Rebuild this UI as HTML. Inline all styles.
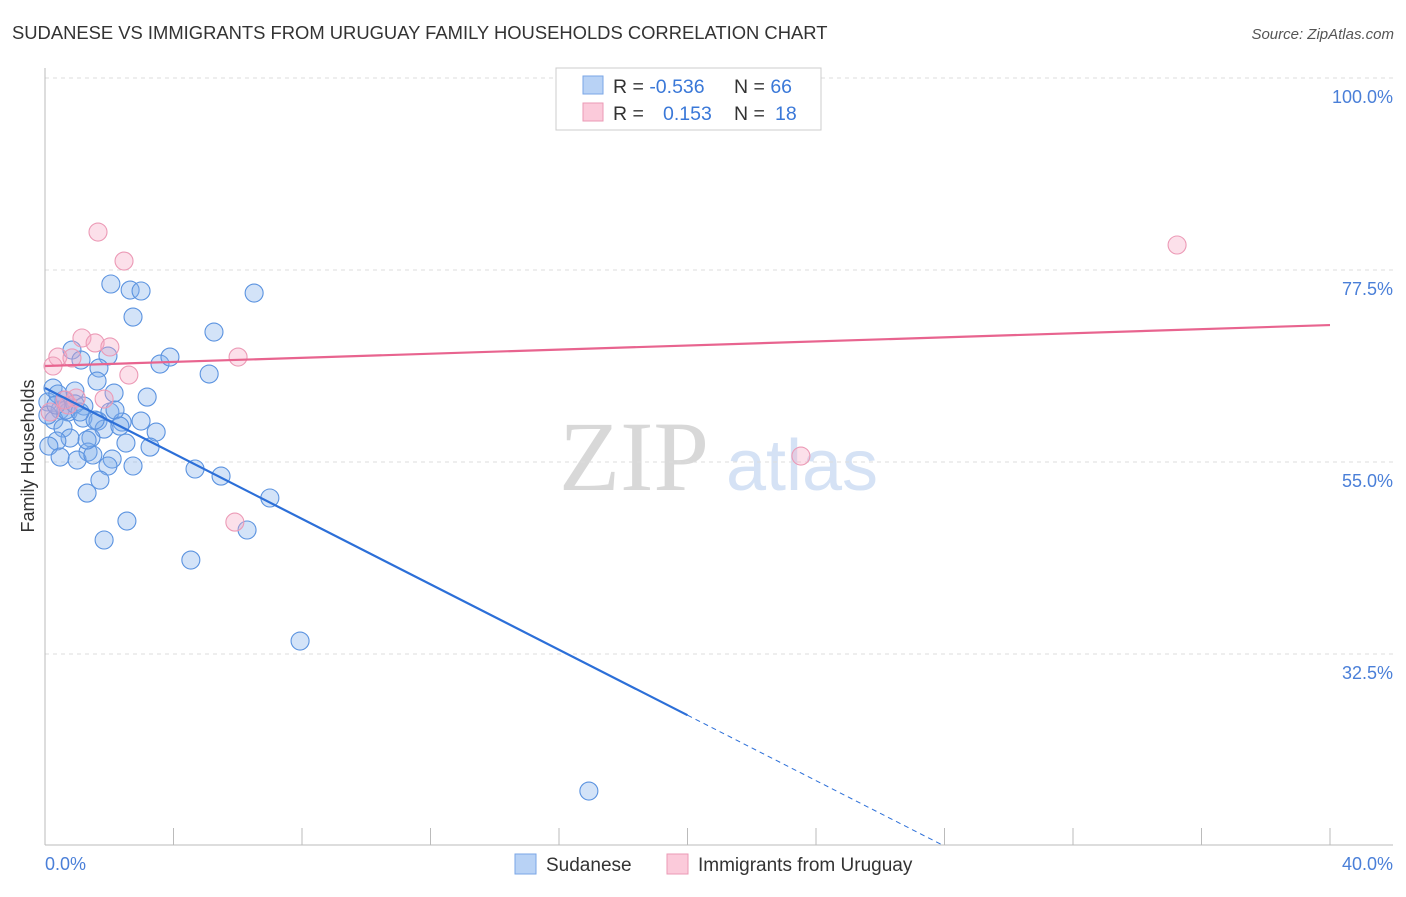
<!DOCTYPE html>
<html><head><meta charset="utf-8"><style>
body{margin:0;background:#fff;font-family:"Liberation Sans",sans-serif}
</style></head><body>
<svg id="c" width="1406" height="892" viewBox="0 0 1406 892" xmlns="http://www.w3.org/2000/svg" font-family="Liberation Sans, sans-serif">
<text x="12" y="39" font-size="18.4" fill="#333">SUDANESE VS IMMIGRANTS FROM URUGUAY FAMILY HOUSEHOLDS CORRELATION CHART</text>
<text x="1394" y="39" font-size="15" fill="#555" font-style="italic" text-anchor="end">Source: ZipAtlas.com</text>
<text transform="translate(34,456) rotate(-90)" font-size="18" fill="#333" text-anchor="middle">Family Households</text>
<g>
<text x="634" y="490" font-size="100" fill="#d8d8d8" style="font-family:'Liberation Serif',serif" text-anchor="middle">ZIP</text>
<text x="802" y="490" font-size="72" fill="#d5e2f5" text-anchor="middle">atlas</text>
</g>
<g id="grid"></g>
<g id="axes"></g>
<g id="marks"></g>
<g>
<rect x="556" y="68" width="265" height="62" fill="#fff" stroke="#ccc"/>
<rect x="583" y="76" width="20" height="18" fill="#b8d2f5" stroke="#7aa6e6"/>
<rect x="583" y="103" width="20" height="18" fill="#fbcada" stroke="#eb9ab5"/>
<text x="613" y="93" font-size="19.5" fill="#333">R = <tspan fill="#3a78d8">-0.536</tspan></text>
<text x="734" y="93" font-size="19.5" fill="#333">N = <tspan fill="#3a78d8">66</tspan></text>
<text x="613" y="120" font-size="19.5" fill="#333">R = <tspan fill="#3a78d8" x="663">0.153</tspan></text>
<text x="734" y="120" font-size="19.5" fill="#333">N = <tspan fill="#3a78d8" x="775">18</tspan></text>
</g>
<g>
<rect x="515" y="854" width="21" height="20" fill="#b8d2f5" stroke="#7aa6e6"/>
<text x="546" y="871" font-size="19" fill="#333">Sudanese</text>
<rect x="667" y="854" width="21" height="20" fill="#fbcada" stroke="#eb9ab5"/>
<text x="698" y="871" font-size="19" fill="#333">Immigrants from Uruguay</text>
</g>
</svg>
<script>
const blueX=[2.05,2.65,2.99,6.51,2.74,5.26,3.58,3.89,5.11,0.84,1.12,1.96,1.68,1.62,0.25,2.15,3.18,0.93,0.59,1.21,0.09,0.47,0.72,2.02,1.18,1.65,2.40,2.99,0.28,0.56,1.84,3.46,0.78,1.43,0.37,2.52,3.27,0.12,1.34,2.09,0.47,1.00,2.74,1.96,4.67,5.48,1.71,1.31,7.00,2.55,6.29,1.84,4.54,7.94,16.93,1.56,1.49,0.65,2.18,0.93,0.40,0.09,2.33,1.31,0.34,1.09];
const blueY=[75.86,75.15,75.04,74.80,71.99,70.23,66.48,67.30,65.31,68.12,66.95,67.42,66.01,64.49,63.67,63.08,62.61,63.32,62.26,61.56,62.03,61.09,60.86,60.86,60.15,59.80,59.68,59.80,59.92,58.98,58.86,58.51,57.81,57.81,57.46,57.22,56.75,56.87,56.17,55.35,55.58,55.23,54.53,54.53,54.18,53.35,52.88,51.36,50.78,48.08,47.03,45.86,43.51,34.02,16.44,59.92,55.82,61.09,61.09,61.80,62.97,60.50,59.21,57.57,61.68,60.86];
const pinkX=[1.65,2.46,35.24,1.15,1.56,2.02,0.40,6.01,0.25,0.84,2.61,0.97,1.84,0.72,0.62,5.91,23.53,0.16];
const pinkY=[81.95,78.55,80.43,69.53,68.95,68.48,67.30,67.30,66.25,67.19,65.19,62.50,62.38,61.68,62.26,47.96,55.70,60.86];
const yTicks=[100,77.5,55,32.5];
const yTickLabels=["100.0%","77.5%","55.0%","32.5%"];
const blueLine=[63.67,-1.917];
const pinkLine=[66.25,0.12];
const NS="http://www.w3.org/2000/svg";
const X=v=>45+v/40*1285, Y=v=>78+(100-v)/22.5*192;
function mk(t,a,p){const e=document.createElementNS(NS,t);for(const k in a)e.setAttribute(k,a[k]);p.appendChild(e);return e;}
const grid=document.getElementById('grid'),axes=document.getElementById('axes'),marks=document.getElementById('marks');
yTicks.forEach((t,i)=>{
 const l=mk('line',{x1:45,x2:1393,y1:Y(t),y2:Y(t),stroke:'#ddd','stroke-dasharray':'4,4'},grid);
 
 
 const tx=mk('text',{x:1393,y:Y(t)+25,'font-size':18,fill:'#4a7fd8','text-anchor':'end'},axes);
 tx.textContent=yTickLabels[i];
 
 
});
mk('line',{x1:45,x2:45,y1:68,y2:845,stroke:'#bbb'},axes);
mk('line',{x1:45,x2:1393,y1:845,y2:845,stroke:'#bbb'},axes);
for(let i=1;i<=10;i++){const t=mk('line',{x1:X(i*4),x2:X(i*4),y1:828,y2:845,stroke:'#bbb'},axes);
 
 }
const x0=mk('text',{x:45,y:870,'font-size':18,fill:'#4a7fd8'},axes);x0.textContent='0.0%';


const x1=mk('text',{x:1393,y:870,'font-size':18,fill:'#4a7fd8','text-anchor':'end'},axes);x1.textContent='40.0%';


blueX.forEach((v,i)=>{const c=mk('circle',{cx:X(v),cy:Y(blueY[i]),r:9,fill:'rgba(130,175,235,0.35)',stroke:'#5b93e0','stroke-width':1.1},marks);
 
 });
pinkX.forEach((v,i)=>{const c=mk('circle',{cx:X(v),cy:Y(pinkY[i]),r:9,fill:'rgba(245,165,195,0.35)',stroke:'#ec9ab6','stroke-width':1.1},marks);
 
 });
const bl=v=>blueLine[0]+blueLine[1]*v, pl=v=>pinkLine[0]+pinkLine[1]*v;
const xEnd=(blueLine[0]-10.1)/(-blueLine[1]);
const l1=mk('line',{x1:X(0),y1:Y(bl(0)),x2:X(20),y2:Y(bl(20)),stroke:'#2c6fd8','stroke-width':2.2},marks);


const l2=mk('line',{x1:X(20),y1:Y(bl(20)),x2:X(xEnd),y2:Y(bl(xEnd)),stroke:'#2c6fd8','stroke-width':1,'stroke-dasharray':'5,4'},marks);


const l3=mk('line',{x1:X(0),y1:Y(pl(0)),x2:X(40),y2:Y(pl(40)),stroke:'#e8648f','stroke-width':2.2},marks);


</script>
</body></html>
